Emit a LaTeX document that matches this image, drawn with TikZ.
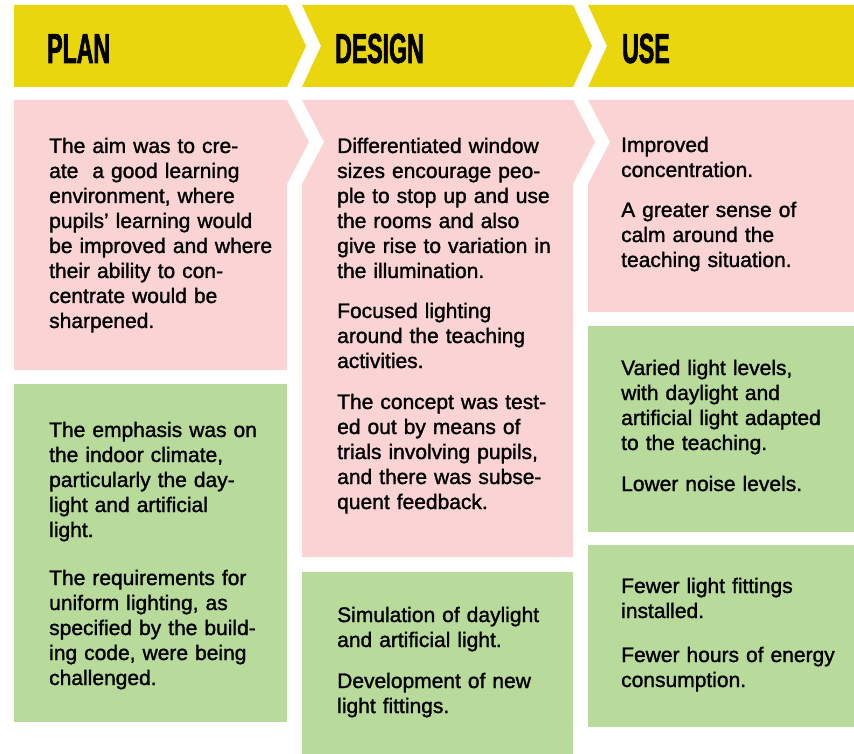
\documentclass[tikz,border=0pt]{standalone}
\usepackage{fontspec}
\newfontfamily\bodyfont[FakeBold=1.4]{Liberation Sans}
\newfontfamily\headfont[FakeStretch=0.55,FakeBold=1.5]{Liberation Sans}
\definecolor{bandyellow}{RGB}{233,214,12}
\definecolor{aimpink}{RGB}{250,212,213}
\definecolor{factgreen}{RGB}{184,219,156}
\tikzset{
  band/.style={fill=bandyellow},
  aimbox/.style={fill=aimpink},
  factbox/.style={fill=factgreen},
  heading/.style={anchor=base west, inner sep=0pt,
    font=\headfont\bfseries\fontsize{42}{42}\selectfont},
  blurb/.style={anchor=base west, inner sep=0pt, text width=260pt, align=left,
    font=\bodyfont\fontsize{21}{25}\selectfont}
}
\newcommand{\blurb}[3]{%
 \node[blurb] ({#1}) at ({#2}) {#3};%
}
\begin{document}
\begin{tikzpicture}[x=1pt,y=-1pt]
  \useasboundingbox (0,0) rectangle (854,754);
  % header arrows
  \path[band] (14,5) -- (287,5) -- (306,46) -- (287,87) -- (14,87) -- cycle;
  \path[band] (302,5) -- (573,5) -- (592,46) -- (573,87) -- (302,87) -- (321,46) -- cycle;
  \path[band] (588,5) -- (854,5) -- (854,87) -- (588,87) -- (607,46) -- cycle;
  \node[heading] (plan) at (47,63) {PLAN};
  \node[heading] (design) at (335,63) {DESIGN};
  \node[heading] (use) at (622,63) {USE};
  % pink row
  \path[aimbox] (14,100) -- (287,100) -- (309,142) -- (287,184) -- (287,370) -- (14,370) -- cycle;
  \path[aimbox] (302,100) -- (573,100) -- (595,142) -- (573,184) -- (573,557) -- (302,557) -- (302,184) -- (324,142) -- cycle;
  \path[aimbox] (588,100) -- (854,100) -- (854,312) -- (588,312) -- (588,184) -- (610,142) -- cycle;
  % green boxes
  \path[factbox] (14,384) rectangle (287,722);
  \path[factbox] (302,572) rectangle (573,754);
  \path[factbox] (588,326) rectangle (854,532);
  \path[factbox] (588,545) rectangle (854,727);
  % plan
  \blurb{planaim}{49,153}{The aim was to cre-\\ate \ a good learning\\environment, where\\pupils’ learning would\\be improved and where\\their ability to con-\\centrate would be\\sharpened.}
  \blurb{planfocus}{49,437}{The emphasis was on\\the indoor climate,\\particularly the day-\\light and artificial\\light.}
  \blurb{planrules}{49,585}{The requirements for\\uniform lighting, as\\specified by the build-\\ing code, were being\\challenged.}
  % design
  \blurb{designwin}{337,153}{Differentiated window\\sizes encourage peo-\\ple to stop up and use\\the rooms and also\\give rise to variation in\\the illumination.}
  \blurb{designlight}{337,318}{Focused lighting\\around the teaching\\activities.}
  \blurb{designtest}{337,409}{The concept was test-\\ed out by means of\\trials involving pupils,\\and there was subse-\\quent feedback.}
  \blurb{designsim}{337,622}{Simulation of daylight\\and artificial light.}
  \blurb{designdev}{337,688}{Development of new\\light fittings.}
  % use
  \blurb{useconc}{621,152}{Improved\\concentration.}
  \blurb{usecalm}{621,217}{A greater sense of\\calm around the\\teaching situation.}
  \blurb{uselevels}{621,375}{Varied light levels,\\with daylight and\\artificial light adapted\\to the teaching.}
  \blurb{usenoise}{621,491}{Lower noise levels.}
  \blurb{usefit}{621,593}{Fewer light fittings\\installed.}
  \blurb{usehours}{621,662}{Fewer hours of energy\\consumption.}
\end{tikzpicture}
\end{document}
